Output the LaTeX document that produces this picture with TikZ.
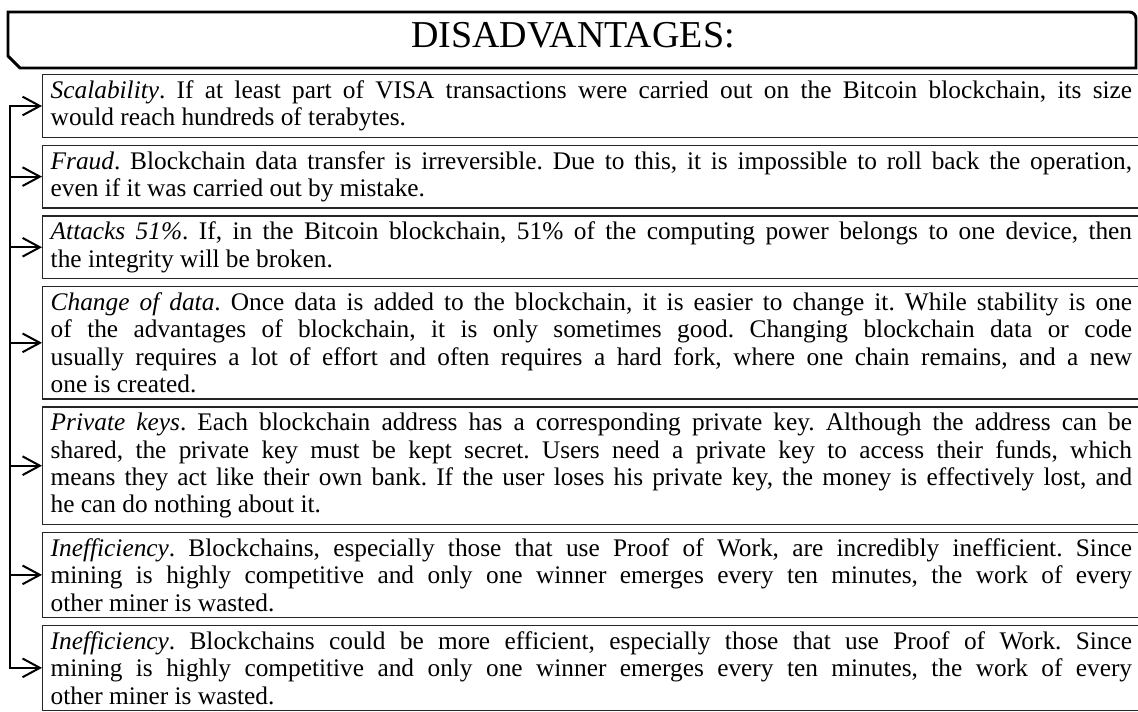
\documentclass[tikz,border=0pt]{standalone}
\usepackage{fontspec}
\setmainfont{Liberation Serif}
\usetikzlibrary{arrows.meta,positioning}
\frenchspacing

\begin{document}
\begin{tikzpicture}[x=0.75pt, y=-0.75pt,
  item/.style={draw=black!85, line width=1.1pt, align=justify, anchor=north west,
    text width=811pt, inner xsep=6pt, inner ysep=4.4pt,
    font=\fontsize{19}{20.6}\selectfont},
  headframe/.style={draw=black, line width=2.2pt},
  flow/.style={-{Straight Barb[length=13pt,width=14pt]}, line width=1.5pt, line join=miter}
]
\useasboundingbox (0,0) rectangle (1138,711);

% Heading with cut corner.
\draw[headframe] (8,56) -- (8,12) -- (1100,12) [rounded corners=5pt] -- (1136,12)
  -- (1136,40) [sharp corners] -- (1136,68) -- (20,68) -- cycle;
\node[font=\fontsize{28.5}{30}\selectfont, anchor=base] (head) at (573,47) {DISADVANTAGES:};

\node[item] (box1) at (42,74) {\textit{Scalability}. If at least part of VISA transactions were carried out on the Bitcoin blockchain, its size\linebreak would reach hundreds of terabytes.};
\node[item, below=5pt of box1] (box2) {\textit{Fraud}. Blockchain data transfer is irreversible. Due to this, it is impossible to roll back the operation,\linebreak even if it was carried out by mistake.};
\node[item, below=5pt of box2] (box3) {\textit{Attacks 51\%}. If, in the Bitcoin blockchain, 51\% of the computing power belongs to one device, then\linebreak the integrity will be broken.};
\node[item, below=5pt of box3] (box4) {\textit{Change of data}. Once data is added to the blockchain, it is easier to change it. While stability is one\linebreak of the advantages of blockchain, it is only sometimes good. Changing blockchain data or code\linebreak usually requires a lot of effort and often requires a hard fork, where one chain remains, and a new\linebreak one is created.};
\node[item, below=5pt of box4] (box5) {\textit{Private keys}. Each blockchain address has a corresponding private key. Although the address can be\linebreak shared, the private key must be kept secret. Users need a private key to access their funds, which\linebreak means they act like their own bank. If the user loses his private key, the money is effectively lost, and\linebreak he can do nothing about it.};
\node[item, below=5pt of box5] (box6) {\textit{Inefficiency}. Blockchains, especially those that use Proof of Work, are incredibly inefficient. Since\linebreak mining is highly competitive and only one winner emerges every ten minutes, the work of every\linebreak other miner is wasted.};
\node[item, below=5pt of box6] (box7) {\textit{Inefficiency}. Blockchains could be more efficient, especially those that use Proof of Work. Since\linebreak mining is highly competitive and only one winner emerges every ten minutes, the work of every\linebreak other miner is wasted.};

% Spine on the left feeding every item.
\coordinate (spine) at (10,0);
\draw[flow] (box2.west -| spine) |- (box1.west);
\draw[flow] (box1.west -| spine) |- (box7.west);
\foreach \n in {2,...,6}
  \draw[flow] (box\n.west -| spine) -- (box\n.west);

\end{tikzpicture}
\end{document}
